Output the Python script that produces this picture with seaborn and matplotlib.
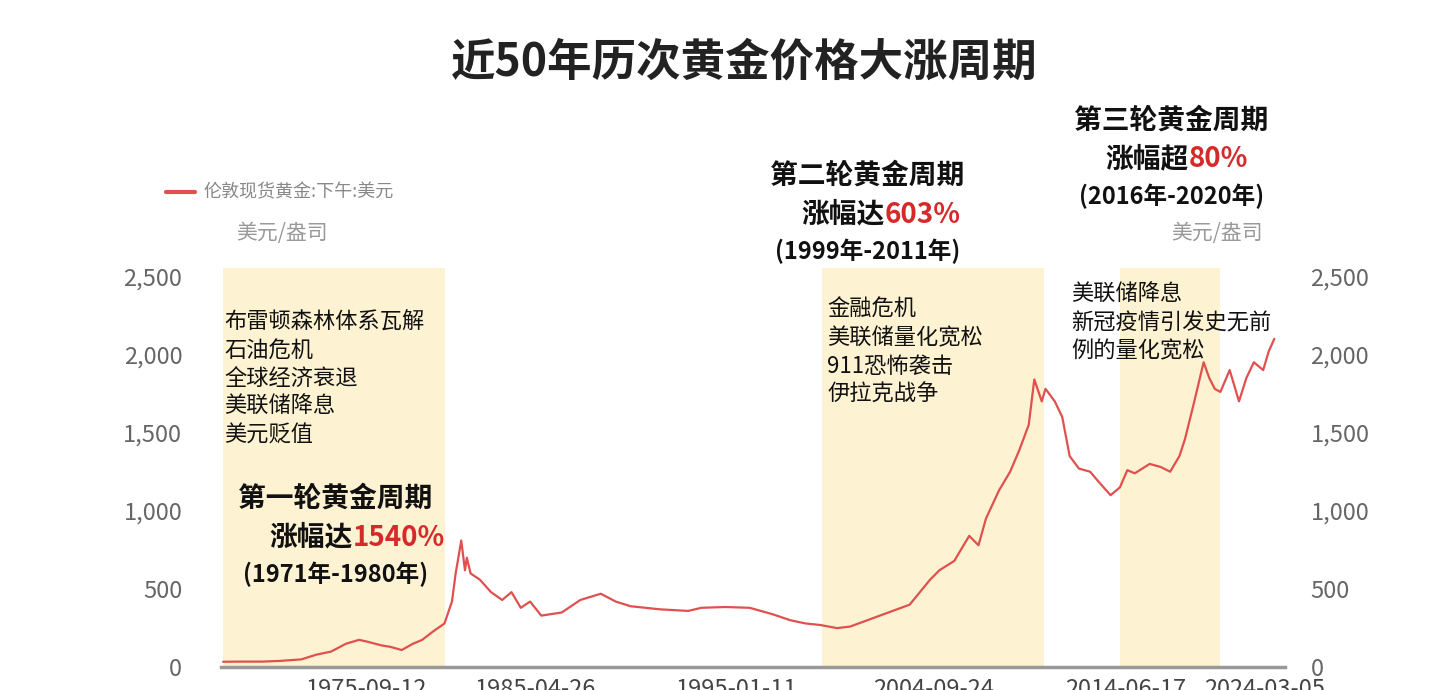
import numpy as np
import pandas as pd
import matplotlib
matplotlib.use("Agg")
import matplotlib.pyplot as plt
import seaborn as sns

sns.set_style("white")
plt.rcParams["font.family"] = ["Noto Sans CJK SC", "DejaVu Sans"]

# ---------------------------------------------------------------------------
# Data
# ---------------------------------------------------------------------------
years = [1968.0, 1969.0, 1970.1, 1971.0, 1972.2, 1973.0, 1973.8, 1974.6, 1975.3, 1975.7,
         1976.5, 1977.0, 1977.6, 1978.2, 1978.7, 1979.3, 1979.9, 1980.3, 1980.5, 1980.8,
         1981.0, 1981.1, 1981.3, 1981.8, 1982.4, 1983.0, 1983.5, 1984.0, 1984.5, 1985.1,
         1986.2, 1987.2, 1988.3, 1989.1, 1989.9, 1991.5, 1993.0, 1993.7, 1995.0, 1996.3,
         1997.5, 1998.5, 1999.3, 2000.1, 2001.0, 2001.7, 2003.3, 2004.9, 2006.0, 2006.5,
         2007.3, 2008.1, 2008.6, 2009.0, 2009.7, 2010.3, 2010.8, 2011.3, 2011.6, 2012.0,
         2012.2, 2012.7, 2013.1, 2013.5, 2014.0, 2014.6, 2015.1, 2015.7, 2016.2, 2016.6,
         2017.0, 2017.8, 2018.4, 2018.9, 2019.4, 2019.7, 2020.2, 2020.7, 2021.0, 2021.3,
         2021.6, 2022.1, 2022.6, 2023.0, 2023.4, 2023.9, 2024.2, 2024.5]
prices = [35, 36, 36, 40, 50, 80, 100, 150, 175, 165,
          140, 130, 110, 150, 175, 230, 280, 420, 600, 810,
          620, 700, 600, 560, 480, 430, 480, 380, 420, 330,
          350, 430, 470, 420, 390, 370, 360, 380, 385, 380,
          340, 300, 280, 270, 250, 260, 330, 400, 560, 620,
          680, 840, 780, 950, 1130, 1250, 1390, 1550, 1840, 1700,
          1780, 1700, 1600, 1350, 1270, 1250, 1180, 1100, 1150, 1260,
          1240, 1300, 1280, 1250, 1350, 1460, 1700, 1950, 1850, 1780,
          1760, 1900, 1700, 1850, 1950, 1900, 2020, 2100]

tick_years = [1975.7, 1984.8, 1995.6, 2006.2, 2016.5, 2024.0]
tick_labels = ["1975-09-12", "1985-04-26", "1995-01-11", "2004-09-24", "2014-06-17", "2024-03-05"]

cycles = [(1968.0, 1979.9), (2000.2, 2012.1), (2016.2, 2021.6)]
y_ticks = [0, 500, 1000, 1500, 2000, 2500]

df = pd.DataFrame({"year": years, "price": prices})

# ---------------------------------------------------------------------------
# Plot
# ---------------------------------------------------------------------------
fig = plt.figure(figsize=(14.46, 6.9), dpi=100)
ax = fig.add_axes([0.153, 0.033, 0.736, 0.578])

for a, b in cycles:
    ax.axvspan(a, b, color="#fdf1cc", alpha=0.9, lw=0, zorder=0)

sns.lineplot(data=df, x="year", y="price", color="#e0504e", lw=1.6, ax=ax, zorder=3)

ax.set_xlim(1967.9, 2025.1)
ax.set_ylim(0, 2550)
ax.set_yticks(y_ticks)
ax.set_yticklabels([f"{v:,}" for v in y_ticks], fontsize=17, color="#666666")
ax.tick_params(axis="y", length=0, pad=28)
ax.set_xticks(tick_years)
ax.set_xticklabels(tick_labels, fontsize=17, color="#444444")
ax.tick_params(axis="x", length=0, pad=8)
ax.set_xlabel("")
ax.set_ylabel("")
for s in ["top", "right", "left"]:
    ax.spines[s].set_visible(False)
ax.spines["bottom"].set_color("#999999")
ax.spines["bottom"].set_linewidth(2.5)

ax2 = ax.twinx()
ax2.set_ylim(ax.get_ylim())
ax2.set_yticks(y_ticks)
ax2.set_yticklabels([f"{v:,}" for v in y_ticks], fontsize=17, color="#666666")
ax2.tick_params(axis="y", length=0, pad=18)
for s in ax2.spines.values():
    s.set_visible(False)

# ---------------------------------------------------------------------------
# Texts
# ---------------------------------------------------------------------------
fig.text(0.515, 0.91, "近50年历次黄金价格大涨周期", ha="center", va="center",
         fontsize=32, fontweight="bold", color="#222222")

fig.lines.append(plt.Line2D([0.115, 0.135], [0.722, 0.722], color="#e0504e", lw=3,
                            transform=fig.transFigure))
fig.text(0.141, 0.722, "伦敦现货黄金:下午:美元", va="center", fontsize=13, color="#888888")
fig.text(0.163, 0.662, "美元/盎司", va="center", fontsize=15, color="#999999")
fig.text(0.81, 0.662, "美元/盎司", va="center", fontsize=15, color="#999999")

def cycle_label(x, y, title, rise, pct, period):
    fig.text(x, y, title, ha="center", va="center", fontsize=20, fontweight="bold", color="#111111")
    fig.text(x + 0.012, y - 0.056, rise, ha="right", va="center", fontsize=20,
             fontweight="bold", color="#111111")
    fig.text(x + 0.012, y - 0.056, pct, ha="left", va="center", fontsize=20,
             fontweight="bold", color="#d42a2a")
    fig.text(x, y - 0.11, period, ha="center", va="center", fontsize=17,
             fontweight="bold", color="#111111")

cycle_label(0.232, 0.277, "第一轮黄金周期", "涨幅达", "1540%", "(1971年-1980年)")
cycle_label(0.6, 0.745, "第二轮黄金周期", "涨幅达", "603%", "(1999年-2011年)")
cycle_label(0.81, 0.825, "第三轮黄金周期", "涨幅超", "80%", "(2016年-2020年)")

fig.text(0.155, 0.452, "布雷顿森林体系瓦解\n石油危机\n全球经济衰退\n美联储降息\n美元贬值",
         va="center", fontsize=16, fontweight="medium", color="#111111", linespacing=1.3)
fig.text(0.572, 0.49, "金融危机\n美联储量化宽松\n911恐怖袭击\n伊拉克战争",
         va="center", fontsize=16, fontweight="medium", color="#111111", linespacing=1.3)
fig.text(0.741, 0.532, "美联储降息\n新冠疫情引发史无前\n例的量化宽松",
         va="center", fontsize=16, fontweight="medium", color="#111111", linespacing=1.3)

fig.savefig("out.png", dpi=100)
plt.close()
